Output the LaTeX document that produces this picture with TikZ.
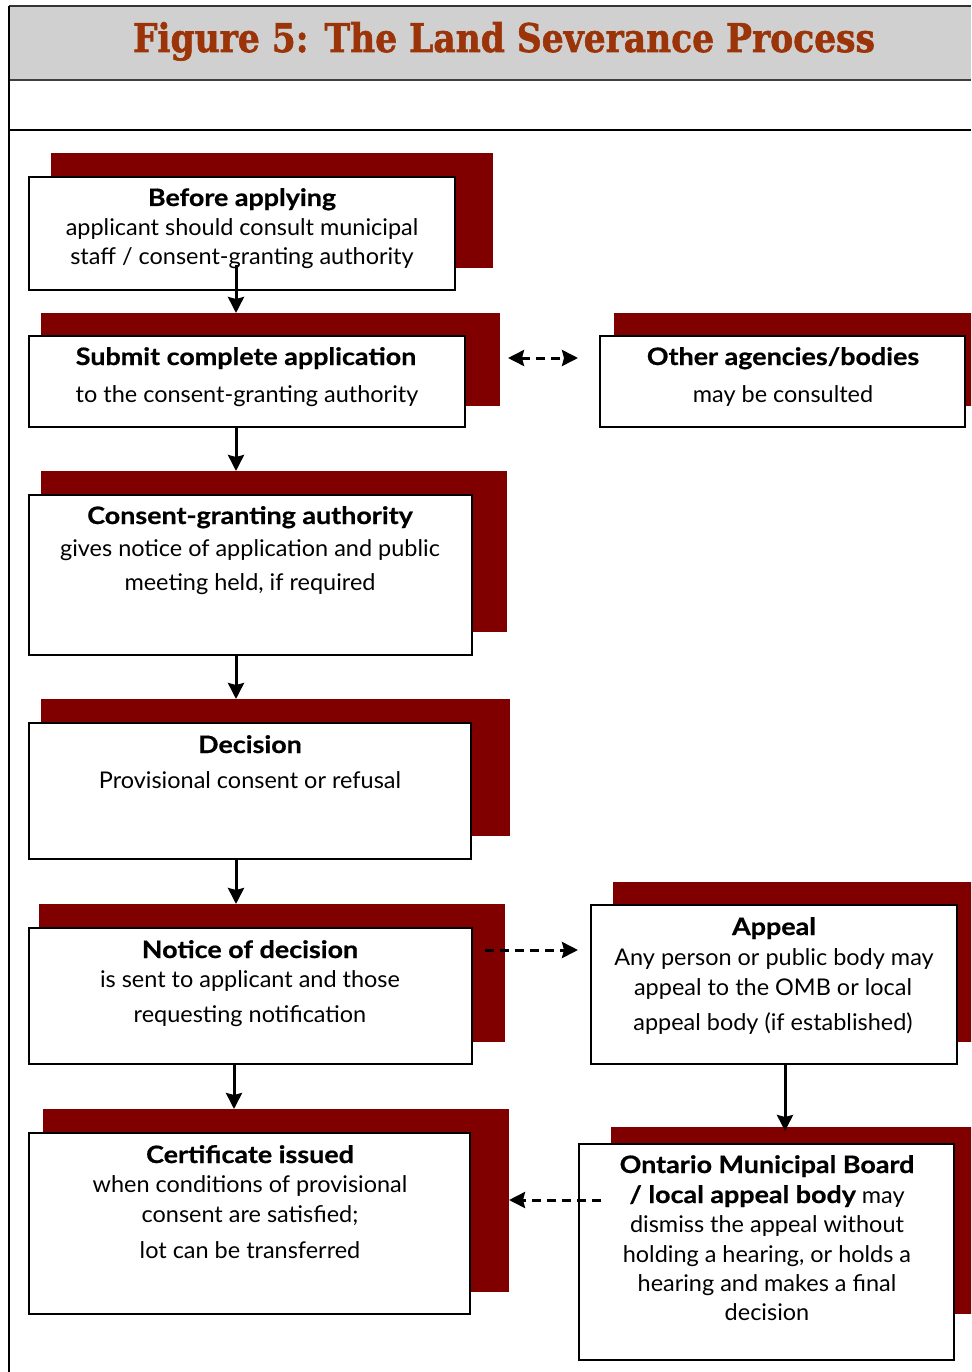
\documentclass[tikz,border=0pt]{standalone}
\usepackage{graphicx}
\usepackage{fontspec}
\setmainfont{Lato}
\newfontfamily\bodyfont{Lato}[FakeStretch=1.02]
\newfontfamily\headfont{Lato Bold}[FakeStretch=1.12, FakeBold=0.6]
\newfontfamily\titlefont{DejaVu Serif Bold}[FakeBold=1.6]
\usetikzlibrary{arrows.meta,calc}

\definecolor{backred}{RGB}{128,0,0}
\definecolor{titlerust}{RGB}{155,52,8}
\definecolor{bandgray}{RGB}{208,208,208}

\begin{document}
\begin{tikzpicture}[x=1pt,y=-1pt,
  box/.style={draw=black, line width=1.8pt, fill=white, anchor=north west,
              inner sep=0pt, outer sep=0pt},
  backing/.style={fill=backred, draw=none, anchor=north west,
              inner sep=0pt, outer sep=0pt},
  txt/.style={anchor=base, inner sep=0pt, font=\bodyfont\fontsize{23}{27}\selectfont},
  hd/.style={anchor=base, inner sep=0pt, font=\headfont\fontsize{24}{28}\selectfont},
  flow/.style={line width=3pt, -{Stealth[length=16pt,width=16pt,inset=2pt]}},
  dflow/.style={flow, dash pattern=on 9pt off 6pt},
]
\useasboundingbox (0,0) rectangle (971,1372);
\clip (0,0) rectangle (971,1372);

% title band and frame
\fill[bandgray] (9,6) rectangle (971,80);
\draw[line width=1.5pt, black!80] (9,6) -- (971,6);
\draw[line width=2pt, black!75] (9,80) -- (971,80);
\draw[line width=2.5pt] (9,130) -- (971,130);
\draw[line width=1.5pt] (9,6) -- (9,1372);
\node[anchor=base, inner sep=0pt, text=titlerust] (title) at (504,52)
  {\resizebox{742pt}{30pt}{\titlefont Figure 5: The Land Severance Process}};

% dark red backings
\node[backing, minimum width=442pt, minimum height=115pt] (s1) at (51,153) {};
\node[backing, minimum width=459pt, minimum height=93pt]  (s2) at (41,313) {};
\node[backing, minimum width=371pt, minimum height=93pt]  (s3) at (614,313) {};
\node[backing, minimum width=466pt, minimum height=161pt] (s4) at (41,471) {};
\node[backing, minimum width=469pt, minimum height=137pt] (s5) at (41,699) {};
\node[backing, minimum width=466pt, minimum height=138pt] (s6) at (39,904) {};
\node[backing, minimum width=372pt, minimum height=160pt] (s7) at (613,882) {};
\node[backing, minimum width=466pt, minimum height=183pt] (s8) at (43,1109) {};
\node[backing, minimum width=374pt, minimum height=187pt] (s9) at (611,1127) {};

% white boxes
\node[box, minimum width=426pt, minimum height=113pt] (b1) at (29,177) {};
\node[box, minimum width=436pt, minimum height=91pt]  (b2) at (29,336) {};
\node[box, minimum width=365pt, minimum height=91pt]  (b3) at (600,336) {};
\node[box, minimum width=443pt, minimum height=160pt] (b4) at (29,495) {};
\node[box, minimum width=442pt, minimum height=136pt] (b5) at (29,723) {};
\node[box, minimum width=443pt, minimum height=136pt] (b6) at (29,928) {};
\node[box, minimum width=366pt, minimum height=159pt] (b7) at (591,905) {};
\node[box, minimum width=441pt, minimum height=181pt] (b8) at (29,1133) {};
\node[box, minimum width=375pt, minimum height=216pt] (b9) at (579,1144) {};

% box texts
\node[hd]  (b1t1) at (242,206) {Before applying};
\node[txt] (b1t2) at (242,236) {applicant should consult municipal};
\node[txt] (b1t3) at (242,265) {staff / consent-granting authority};

\node[hd]  (b2t1) at (246,365) {Submit complete application};
\node[txt] (b2t2) at (247,402) {to the consent-granting authority};

\node[hd]  (b3t1) at (783,365) {Other agencies/bodies};
\node[txt] (b3t2) at (783,402) {may be consulted};

\node[hd]  (b4t1) at (250,524) {Consent-granting authority};
\node[txt] (b4t2) at (250,556) {gives notice of application and public};
\node[txt] (b4t3) at (250,590) {meeting held, if required};

\node[hd]  (b5t1) at (250,753) {Decision};
\node[txt] (b5t2) at (250,788) {Provisional consent or refusal};

\node[hd]  (b6t1) at (250,958) {Notice of decision};
\node[txt] (b6t2) at (250,987) {is sent to applicant and those};
\node[txt] (b6t3) at (250,1022) {requesting notification};

\node[hd]  (b7t1) at (774,935) {Appeal};
\node[txt] (b7t2) at (774,965) {Any person or public body may};
\node[txt] (b7t3) at (773,995) {appeal to the OMB or local};
\node[txt] (b7t4) at (773,1030) {appeal body (if established)};

\node[hd]  (b8t1) at (250,1163) {Certificate issued};
\node[txt] (b8t2) at (250,1192) {when conditions of provisional};
\node[txt] (b8t3) at (250,1222) {consent are satisfied;};
\node[txt] (b8t4) at (250,1258) {lot can be transferred};

\node[hd]  (b9t1) at (767,1173) {Ontario Municipal Board};
\node[txt] (b9t2) at (767,1203) {{\headfont\fontsize{24}{28}\selectfont / local appeal body} may};
\node[txt] (b9t3) at (767,1232) {dismiss the appeal without};
\node[txt] (b9t4) at (767,1262) {holding a hearing, or holds a};
\node[txt] (b9t5) at (767,1291) {hearing and makes a final};
\node[txt] (b9t6) at (767,1320) {decision};

% main flow
\draw[flow] (b1t3.base -| 236,0) -- (s2.north -| 236,0);
\draw[flow] (b2.south -| 236,0) -- (s4.north -| 236,0);
\draw[flow] (b4.south -| 236,0) -- (s5.north -| 236,0);
\draw[flow] (b5.south -| 236,0) -- (s6.north -| 236,0);
\draw[flow] (b6.south -| 234,0) -- (s8.north -| 234,0);
\draw[flow] (b7.south -| 785,0) -- ($(s9.north -| 785,0)+(0,4)$);

% side branches
\draw[dflow, {Stealth[length=16pt,width=16pt,inset=2pt]}-{Stealth[length=16pt,width=16pt,inset=2pt]}]
  ($(s2.east |- 0,358)+(8,0)$) -- ($(b3.west |- 0,358)+(-22,0)$);
\draw[dflow] ($(b6.east |- 0,950)+(13,0)$) -- ($(b7.west |- 0,950)+(-13,0)$);
\draw[dflow] ($(b9.west |- 0,1200)+(22,0)$) -- (s8.east |- 0,1200);
\end{tikzpicture}
\end{document}
